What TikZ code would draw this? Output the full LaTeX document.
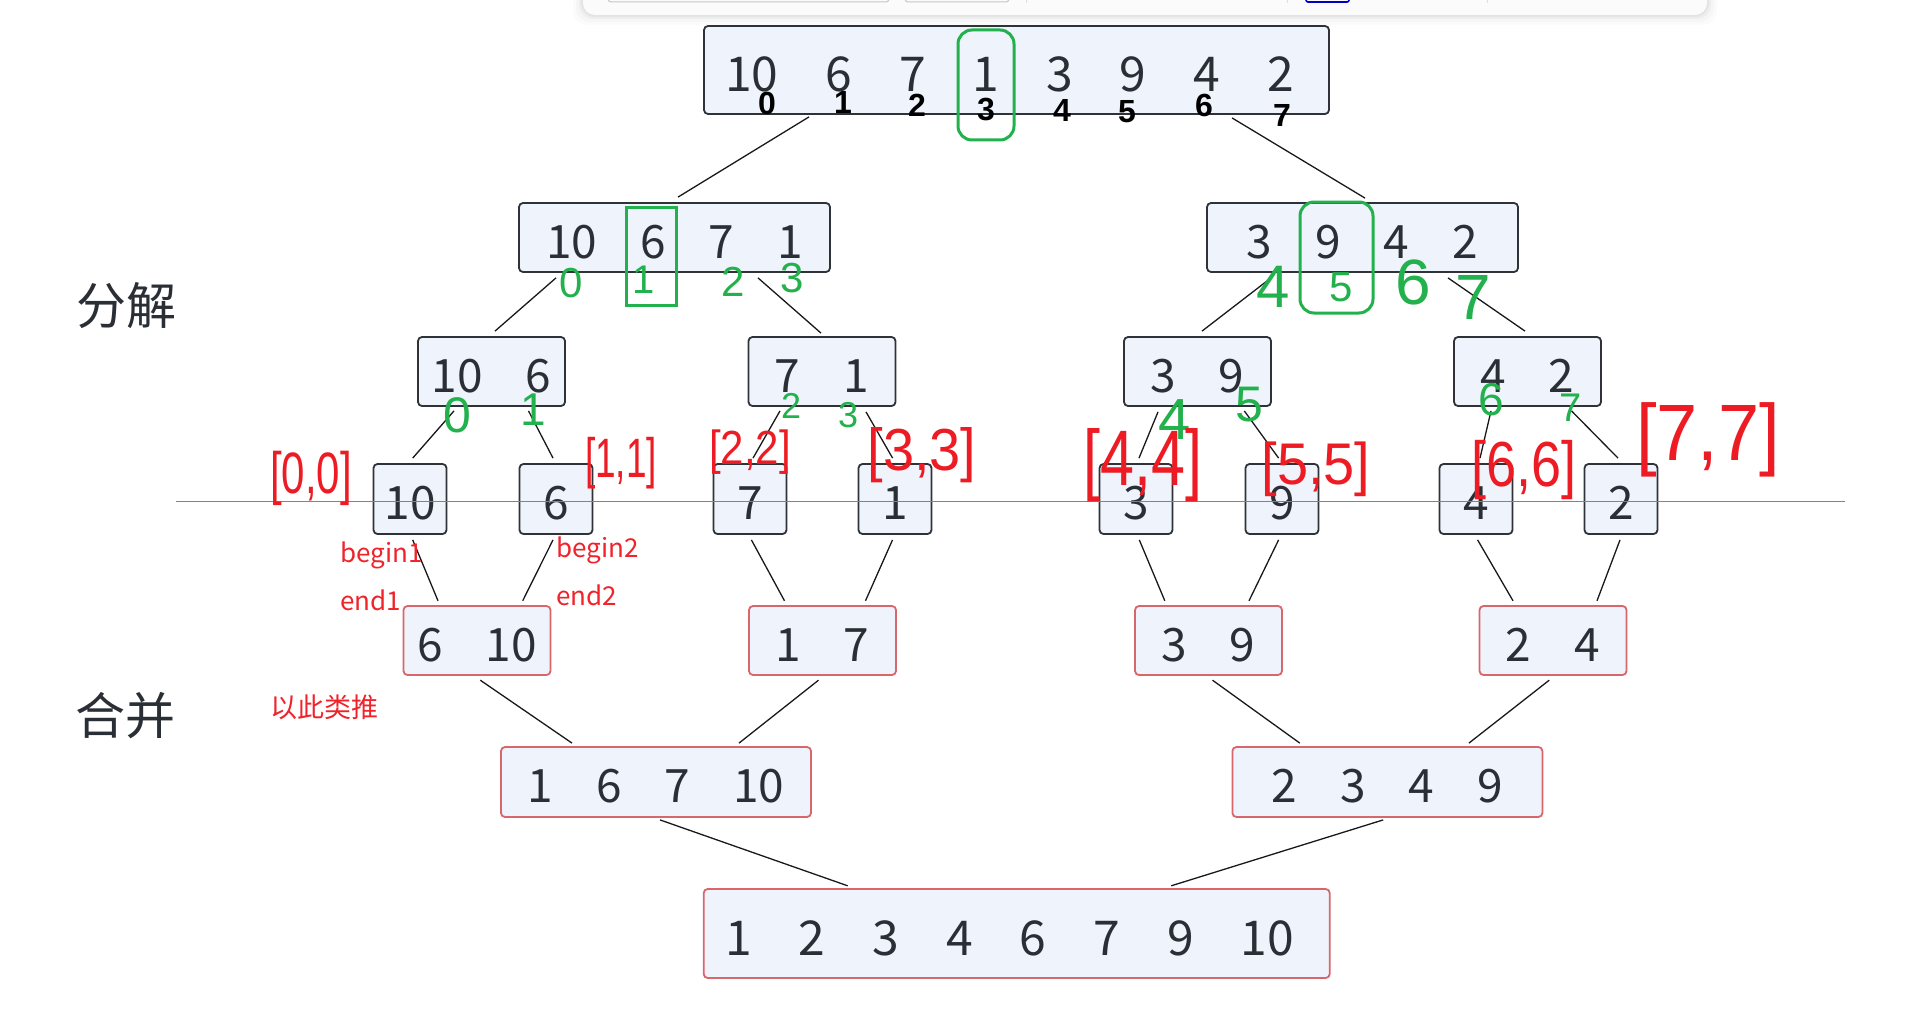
\documentclass[tikz,border=0pt]{standalone}
\usepackage{fontspec}
\setmainfont{Noto Sans CJK SC}
\newfontfamily\hand{Liberation Sans}
\definecolor{boxfill}{HTML}{EEF3FC}
\definecolor{boxline}{HTML}{2F3237}
\definecolor{redline}{HTML}{D9666B}
\definecolor{numcol}{HTML}{2A2E35}
\definecolor{pgreen}{HTML}{22B14C}
\definecolor{pred}{HTML}{ED1C24}
\definecolor{tred}{HTML}{F0232B}
\definecolor{glinecol}{HTML}{5AA05A}
\newcommand\gs{\hspace{43pt}}
\newcommand\gb{\hspace{47pt}}
\newcommand\numf{\fontsize{46}{46}\selectfont}
\newcommand\numF{\fontsize{48}{48}\selectfont}
\newcommand\hw[3]{\fontsize{#1}{#1}\selectfont\scalebox{1}[#2]{#3}}
\begin{document}
\begin{tikzpicture}[x=1pt,y=-1pt,
  box/.style={draw=boxline, fill=boxfill, rounded corners=4pt, line width=1.8pt, inner sep=0pt, text=numcol, font=\numf, text height=41pt, text depth=0pt},
  redbox/.style={box, draw=redline},
  bigtext/.style={font=\numF, text height=43pt, text depth=0pt},
  conn/.style={draw=black!90, line width=1.3pt},
  gnote/.style={text=pgreen, inner sep=0pt, font=\hand},
  bnote/.style={text=black, inner sep=0pt, font=\hand\bfseries},
  rnote/.style={text=pred, inner sep=0pt, font=\hand},
  tnote/.style={text=tred, inner sep=0pt, anchor=west, font=\fontsize{26}{26}\selectfont},
  lab/.style={text=numcol, inner sep=0pt, font=\fontsize{50}{50}\selectfont}
]
\useasboundingbox (0,0) rectangle (1916,1022);
\fill[white] (0,0) rectangle (1916,1022);

% top toolbar fragment
\foreach \k/\o in {10/0.015,7/0.02,4/0.03,2/0.04}
  \fill[black, opacity=\o, rounded corners=14pt] (583-\k,-20) rectangle (1707+\k,15+\k);
\fill[white!97!gray, rounded corners=12pt] (583,-20) rectangle (1707,15);
\draw[gray!45, line width=1pt, rounded corners=3pt] (608,-10) rectangle (889,2);
\draw[gray!45, line width=1pt, rounded corners=3pt] (905,-10) rectangle (1009,2);
\draw[gray!25, line width=1pt] (1026,-2) -- (1026,3);
\draw[gray!25, line width=1pt] (1287,-2) -- (1287,3);
\draw[gray!25, line width=1pt] (1487,-2) -- (1487,3);
\draw[blue!75!black, line width=1.6pt, rounded corners=2pt] (1306,-10) rectangle (1349,2);

% boxes
\node[box, bigtext, minimum width=625pt, minimum height=88pt] (T) at (1016.5,70) {10\gb6\gb7\gb1\gb3\gb9\gb4\gb2\kern14pt};
\node[box, minimum width=311pt, minimum height=69pt] (A) at (674.5,237.5) {10\gs6\gs7\gs1};
\node[box, minimum width=311pt, minimum height=69pt] (B) at (1362.5,237.5) {3\gs9\gs4\gs2};
\node[box, minimum width=147pt, minimum height=69pt] (C) at (491.5,371.5) {10\gs6};
\node[box, minimum width=147pt, minimum height=69pt] (D) at (822,371.5) {7\gs1};
\node[box, minimum width=147pt, minimum height=69pt] (E) at (1197.5,371.5) {3\gs9};
\node[box, minimum width=147pt, minimum height=69pt] (F) at (1527.5,371.5) {4\gs2};
\foreach \nm/\xx/\tt in {L0/410/10, L1/556/6, L2/750/7, L3/895/1, L4/1136/3, L5/1282/9, L6/1476/4, L7/1621/2}
  \node[box, minimum width=73pt, minimum height=70pt] (\nm) at (\xx,499) {\tt};
\node[redbox, minimum width=147pt, minimum height=69pt] (G) at (477,640.5) {6\gs10};
\node[redbox, minimum width=147pt, minimum height=69pt] (H) at (822.5,640.5) {1\gs7};
\node[redbox, minimum width=147pt, minimum height=69pt] (I) at (1208.5,640.5) {3\gs9};
\node[redbox, minimum width=147pt, minimum height=69pt] (J) at (1553,640.5) {2\gs4};
\node[redbox, minimum width=310pt, minimum height=70pt] (K) at (656,782) {1\gs6\gs7\gs10};
\node[redbox, minimum width=310pt, minimum height=70pt] (L) at (1387.4,782) {2\gs3\gs4\gs9};
\node[redbox, bigtext, minimum width=626pt, minimum height=89pt] (M) at (1016.7,933.5) {1\gb2\gb3\gb4\gb6\gb7\gb9\gb10\kern14pt};

% connectors
\foreach \pa/\xa/\ya/\ch/\xb/\yb in {
  T/-207.5/-2/A/3.5/5, T/215.5/-3/B/2.5/4,
  A/-118.5/-5/C/3.5/5, A/83.5/-5/D/-1/3,
  B/-91.5/-5/E/4.5/5, B/85.5/-5/F/-2.5/5,
  C/-37.5/-4/L0/2.7/5, C/37/-4/L1/-3/5,
  D/-42/-4/L2/3/5, D/44/-5/L3/-2.4/5,
  E/-39.5/-5/L4/3/5, E/46.8/-4/L5/-3.4/5,
  F/-36.5/-4/L6/4/5, F/44/-4/L7/-3/5,
  L0/2.7/-5/G/-39/4.3, L1/-3/-5/G/45.7/4.3,
  L2/1.4/-5/H/-38/4.3, L3/-2.5/-5/H/43/4.3,
  L4/3.3/-5/I/-43.7/4.3, L5/-3.4/-5/I/40.5/4.3,
  L6/1.6/-5/J/-40/4.3, L7/-1/-5/J/44/4.3,
  G/3.3/-4.3/K/-84/3, H/-4/-4.3/K/83/3,
  I/4/-4.3/L/-87.6/3, J/-3.8/-4.3/L/81.5/3,
  K/4/-2/M/-169/2.3, L/-4.2/-2/M/154.5/2.3}
  \draw[conn] ([xshift=\xa pt,yshift=\ya pt]\pa.south) -- ([xshift=\xb pt,yshift=\yb pt]\ch.north);

% side labels
\node[lab] (fj) at (126,306) {分解};
\node[lab] (hb) at (125,716) {合并};

% green split line
\coordinate (gl1) at (176,501.5);
\coordinate (gl2) at (1845,501.5);
\draw[glinecol, line width=1.7pt] (gl1) -- (gl2);

% typed red notes
\node[tnote] (b1) at (340,555) {begin1};
\node[tnote] (e1) at (340,600) {end1};
\node[tnote] (b2) at (556,550) {begin2};
\node[tnote] (e2) at (556,595) {end2};
\node[tnote, font=\fontsize{27}{27}\selectfont] (ycl) at (270,707) {以此类推};

% green handwritten marks
\draw[pgreen, line width=3pt, rounded corners=14pt] (958,30) rectangle (1014,140);
\draw[pgreen, line width=3pt] (626,207) rectangle (676,305);
\draw[pgreen, line width=3pt, rounded corners=14pt] (1300,202) rectangle (1373,313);

% black index marks
\foreach \nm/\xx/\yy/\tt in {k0/767/103/0, k1/843/102/1, k2/917/105/2, k3/986/110/3, k4/1062/110/4, k5/1127/112/5, k6/1204/105/6, k7/1282/115/7}
  \node[bnote] (\nm) at (\xx,\yy) {\hw{32}{1}{\tt}};

% green index marks
\foreach \nm/\xx/\yy/\ss/\tt in {
  a0/571/283/42/0, a1/644/280/40/1, a2/733/282/42/2, a3/792/278/42/3,
  a4/1273/287/60/4, a5/1341/287/42/5, a6/1413/282/64/6, a7/1473/297/64/7,
  c0/457/415/50/0, c1/533/410/46/1, c2/791/406/36/2, c3/848/415/36/3,
  c4/1175/420/58/4, c5/1249/405/50/5, c6/1491/400/46/6, c7/1571/408/40/7}
  \node[gnote] (\nm) at (\xx,\yy) {\hw{\ss}{1}{\tt}};

% red handwritten ranges
\node[rnote] (r0) at (311,478) {\hw{42}{1.39}{[0,0]}};
\node[rnote] (r1) at (621,463) {\hw{37}{1.5}{[1,1]}};
\node[rnote] (r2) at (750,452) {\hw{42}{1.14}{[2,2]}};
\node[rnote] (r3) at (922,455) {\hw{56}{1.06}{[3,3]}};
\node[rnote] (r4) at (1143,465) {\hw{61}{1.29}{[4,4]}};
\node[rnote] (r5) at (1316,469) {\hw{56}{1.05}{[5,5]}};
\node[rnote] (r6) at (1524,470) {\hw{54}{1.18}{[6,6]}};
\node[rnote] (r7) at (1708,440) {\hw{74}{1.08}{[7,7]}};
\end{tikzpicture}
\end{document}
